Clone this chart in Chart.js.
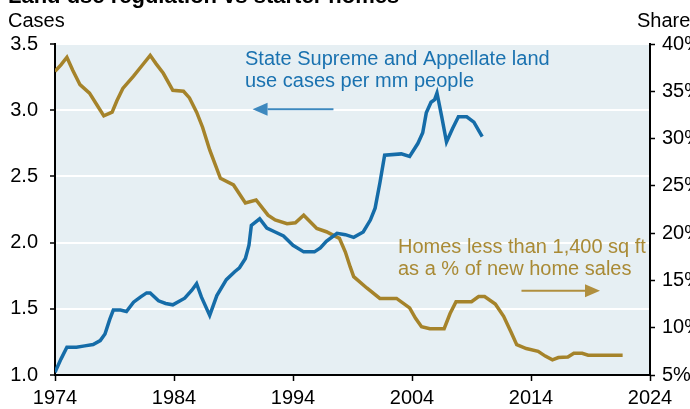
<!DOCTYPE html>
<html>
<head>
<meta charset="utf-8">
<script src="https://cdn.jsdelivr.net/npm/chart.js@4.4.1/dist/chart.umd.min.js"></script>
<style>
  html, body { margin: 0; padding: 0; background: #fff; }
  canvas { display: block; }
</style>
</head>
<body>
<canvas id="chart" width="690" height="409"></canvas>
<script>
// Land use cases per mm people (left axis)
const caseYears = [1974.0, 1974.5, 1975.0, 1975.8, 1976.5, 1977.2, 1977.8, 1978.2, 1978.6, 1978.9,
  1979.5, 1980.0, 1980.6, 1981.2, 1981.7, 1982.0, 1982.7, 1983.3, 1983.9, 1984.9,
  1985.5, 1985.9, 1986.3, 1987.0, 1987.6, 1988.4, 1989.1, 1989.5, 1990.0, 1990.3,
  1990.5, 1991.2, 1991.8, 1992.5, 1993.2, 1994.0, 1994.9, 1995.8, 1996.3, 1996.8,
  1997.7, 1998.4, 1999.1, 1999.9, 2000.5, 2000.9, 2001.3, 2001.7, 2003.1, 2003.8,
  2004.5, 2004.9, 2005.2, 2005.6, 2005.9, 2006.1, 2006.5, 2006.9, 2007.4, 2007.9,
  2008.6, 2009.2, 2009.9];
const caseValues = [1.02, 1.12, 1.21, 1.21, 1.22, 1.23, 1.26, 1.31, 1.42, 1.49,
  1.49, 1.48, 1.55, 1.59, 1.62, 1.62, 1.56, 1.54, 1.53, 1.58,
  1.64, 1.69, 1.59, 1.45, 1.60, 1.72, 1.78, 1.81, 1.88, 1.98,
  2.13, 2.18, 2.11, 2.08, 2.05, 1.98, 1.93, 1.93, 1.96, 2.01,
  2.07, 2.06, 2.04, 2.08, 2.17, 2.26, 2.45, 2.66, 2.67, 2.65,
  2.75, 2.83, 2.98, 3.06, 3.08, 3.13, 2.95, 2.76, 2.86, 2.95,
  2.95, 2.91, 2.80];

// Homes < 1,400 sq ft as % of new home sales (right axis)
const shareYears = [1974.0, 1974.5, 1975.0, 1975.5, 1976.1, 1976.9, 1977.5, 1978.1, 1978.8, 1979.2,
  1979.7, 1980.6, 1981.3, 1982.0, 1982.5, 1983.1, 1983.9, 1984.8, 1985.3, 1985.9,
  1986.4, 1987.0, 1987.9, 1989.0, 1990.0, 1990.9, 1991.9, 1992.5, 1993.5, 1994.2,
  1994.9, 1996.0, 1996.8, 1997.9, 1998.4, 1998.8, 1999.1, 2000.2, 2001.3, 2002.7,
  2003.8, 2004.3, 2004.8, 2005.5, 2006.7, 2007.2, 2007.7, 2009.0, 2009.6, 2010.1,
  2011.0, 2011.7, 2012.3, 2012.8, 2013.6, 2014.6, 2015.2, 2015.8, 2016.3, 2017.1,
  2017.6, 2018.3, 2018.8, 2021.7];
const shareValues = [37.1, 37.8, 38.6, 37.2, 35.7, 34.8, 33.6, 32.4, 32.8, 34.0,
  35.3, 36.6, 37.7, 38.8, 37.9, 36.9, 35.1, 35.0, 34.3, 32.8,
  31.2, 28.8, 25.8, 25.1, 23.2, 23.5, 21.9, 21.4, 21.0, 21.1,
  21.9, 20.5, 20.15, 19.45, 18.0, 16.45, 15.4, 14.2, 13.1, 13.1,
  12.1, 11.0, 10.1, 9.9, 9.9, 11.5, 12.75, 12.75, 13.3, 13.3,
  12.5, 11.2, 9.6, 8.2, 7.8, 7.5, 7.0, 6.6, 6.85, 6.9,
  7.3, 7.3, 7.1, 7.1];

const BLUE = '#156ca8';
const GOLD = '#a5832a';
const FONT = '"Liberation Sans", Arial, sans-serif';

const toPoints = (xs, ys) => xs.map((x, i) => ({ x: x, y: ys[i] }));

// plot background
const bgPlugin = {
  id: 'bg',
  beforeDraw(chart) {
    const { ctx, chartArea: a } = chart;
    ctx.save();
    ctx.fillStyle = '#e6eff3';
    ctx.fillRect(a.left, a.top, a.right - a.left, a.bottom - a.top);
    ctx.restore();
  }
};

function arrow(ctx, x1, x2, y, color, lw) {
  const dir = x2 > x1 ? 1 : -1;
  const headLen = 15, headHalf = 6.5;
  ctx.strokeStyle = color;
  ctx.fillStyle = color;
  ctx.lineWidth = lw;
  ctx.beginPath();
  ctx.moveTo(x1, y);
  ctx.lineTo(x2 - dir * headLen, y);
  ctx.stroke();
  ctx.beginPath();
  ctx.moveTo(x2, y);
  ctx.lineTo(x2 - dir * headLen, y - headHalf);
  ctx.lineTo(x2 - dir * headLen, y + headHalf);
  ctx.closePath();
  ctx.fill();
}

// titles and annotations
const textPlugin = {
  id: 'texts',
  afterDraw(chart) {
    const { ctx, scales } = chart;
    const x = scales.x, yL = scales.y, yR = scales.y1;
    ctx.save();
    ctx.textBaseline = 'alphabetic';
    ctx.fillStyle = '#000';
    ctx.font = 'bold 22px ' + FONT;
    ctx.fillText('Land use regulation vs starter homes', 8, 3);
    ctx.font = '20px ' + FONT;
    ctx.fillText('Cases', 8, 27);
    ctx.fillText('Share', 637, 27);

    ctx.fillStyle = '#1a72b0';
    ctx.fillText('State Supreme and Appellate land', 245, 65);
    ctx.fillText('use cases per mm people', 245, 87);
    arrow(ctx, x.getPixelForValue(1997.4), x.getPixelForValue(1990.6), yL.getPixelForValue(3.0) - 1, '#3d88be', 2);

    ctx.fillStyle = '#a98a35';
    ctx.fillText('Homes less than 1,400 sq ft', 398, 253);
    ctx.fillText('as a % of new home sales', 398, 275);
    arrow(ctx, x.getPixelForValue(2013.2), x.getPixelForValue(2019.8), yR.getPixelForValue(13.9), '#b08f3e', 2);
    ctx.restore();
  }
};

new Chart(document.getElementById('chart'), {
  type: 'line',
  data: {
    datasets: [
      {
        label: 'State Supreme and Appellate land use cases per mm people',
        data: toPoints(caseYears, caseValues),
        borderColor: BLUE,
        borderWidth: 3.5,
        pointRadius: 0,
        tension: 0,
        yAxisID: 'y'
      },
      {
        label: 'Homes less than 1,400 sq ft as a % of new home sales',
        data: toPoints(shareYears, shareValues),
        borderColor: GOLD,
        borderWidth: 3.5,
        pointRadius: 0,
        tension: 0,
        yAxisID: 'y1'
      }
    ]
  },
  options: {
    responsive: false,
    animation: false,
    layout: { padding: { top: 44, left: 0, right: 0, bottom: 0 } },
    plugins: {
      legend: { display: false },
      title: { display: false },
      tooltip: { enabled: false }
    },
    scales: {
      x: {
        type: 'linear',
        min: 1974,
        max: 2024,
        ticks: {
          stepSize: 10,
          color: '#000',
          font: { family: FONT, size: 20 },
          padding: 5,
          maxRotation: 0,
          callback: (v) => String(v)
        },
        grid: { drawOnChartArea: false, tickColor: '#000', tickLength: 6, tickWidth: 1.5 },
        border: { color: '#000', width: 2 },
        afterFit: (s) => { s.height = 34; }
      },
      y: {
        position: 'left',
        min: 1,
        max: 3.5,
        ticks: {
          stepSize: 0.5,
          color: '#000',
          font: { family: FONT, size: 20 },
          padding: 12,
          callback: (v) => v.toFixed(1)
        },
        grid: { color: '#ffffff', lineWidth: 2, tickColor: '#000', tickLength: 5, tickWidth: 1.5 },
        border: { color: '#000', width: 2 },
        afterFit: (s) => { s.width = 55; }
      },
      y1: {
        position: 'right',
        min: 5,
        max: 40,
        ticks: {
          stepSize: 5,
          color: '#000',
          font: { family: FONT, size: 20 },
          padding: 7,
          callback: (v) => v + '%'
        },
        grid: { drawOnChartArea: false, tickColor: '#000', tickLength: 5, tickWidth: 1.5 },
        border: { color: '#000', width: 2 },
        afterFit: (s) => { s.width = 40; }
      }
    }
  },
  plugins: [bgPlugin, textPlugin]
});
</script>
</body>
</html>
